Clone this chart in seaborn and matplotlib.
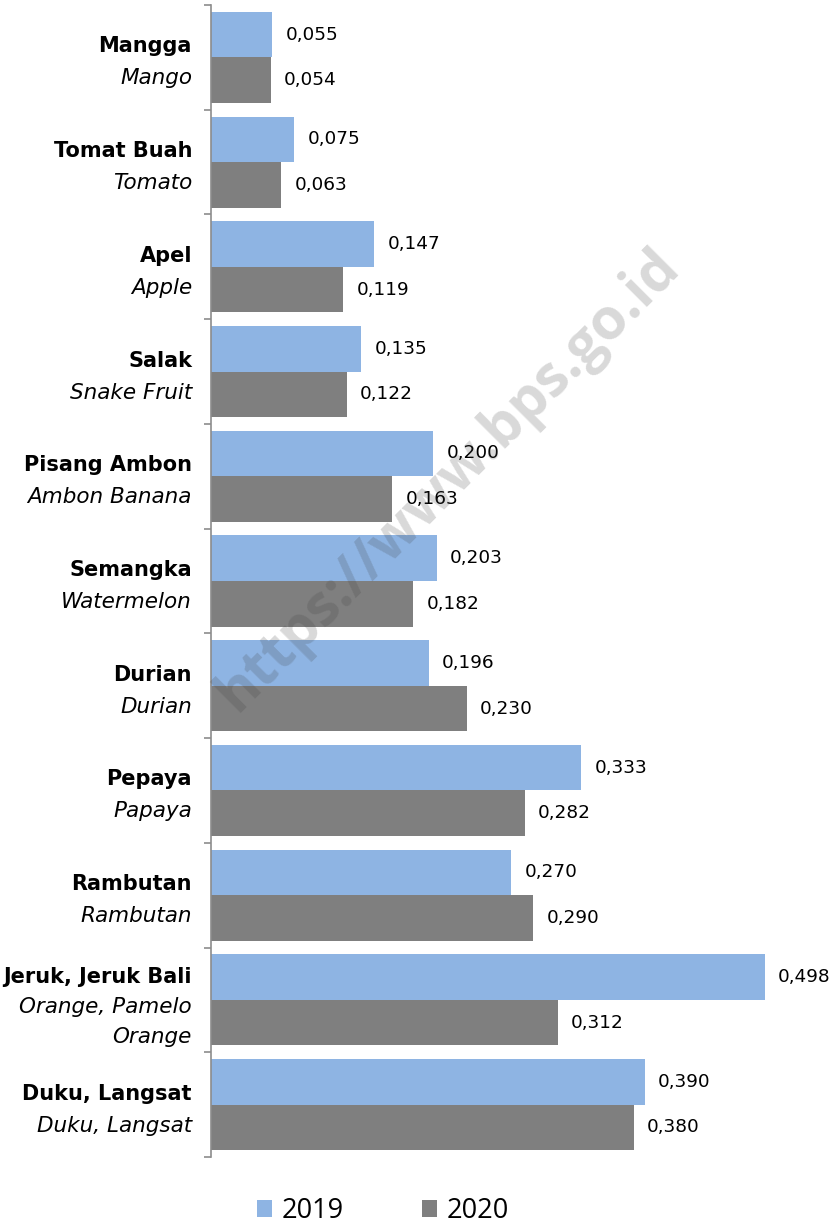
import numpy as np
import pandas as pd
import matplotlib
matplotlib.use("Agg")
import matplotlib.pyplot as plt
import matplotlib.transforms as mtransforms
from matplotlib.patches import Patch
import seaborn as sns

# ---------------- data ----------------
labels_id = ["Mangga", "Tomat Buah", "Apel", "Salak", "Pisang Ambon", "Semangka",
             "Durian", "Pepaya", "Rambutan", "Jeruk, Jeruk Bali", "Duku, Langsat"]
labels_en = ["Mango", "Tomato", "Apple", "Snake Fruit", "Ambon Banana", "Watermelon",
             "Durian", "Papaya", "Rambutan", "Orange, Pamelo\nOrange", "Duku, Langsat"]
years = ["2019", "2020"]
values_2019 = [0.055, 0.075, 0.147, 0.135, 0.200, 0.203, 0.196, 0.333, 0.270, 0.498, 0.390]
values_2020 = [0.054, 0.063, 0.119, 0.122, 0.163, 0.182, 0.230, 0.282, 0.290, 0.312, 0.380]
colors = ["#8EB4E3", "#7F7F7F"]
watermark = "https://www.bps.go.id"

df = pd.DataFrame({
    "cat": labels_id * 2,
    "year": [years[0]] * len(labels_id) + [years[1]] * len(labels_id),
    "value": values_2019 + values_2020,
})

sns.set_style("white")
plt.rcParams["font.family"] = ["Open Sans", "DejaVu Sans"]

fig = plt.figure(figsize=(8.35, 12.27), dpi=100)
ax = fig.add_axes([211 / 835, 1 - 1157 / 1227, 1 - 211 / 835, (1157 - 5) / 1227])

sns.barplot(data=df, y="cat", x="value", hue="year", order=labels_id, hue_order=years,
            palette=colors, orient="h", width=0.87, saturation=1, ax=ax, legend=False,
            linewidth=0)

ax.set_xlim(0, (835 - 211) / 1112)
ax.set_ylim(len(labels_id) - 0.5, -0.5)

# value labels
for cont in ax.containers:
    ax.bar_label(cont, labels=[f"{v:.3f}".replace(".", ",") for v in cont.datavalues],
                 padding=9.5, fontsize=13.3, color="black", family="DejaVu Sans")

# axes styling
for s in ["top", "right", "bottom"]:
    ax.spines[s].set_visible(False)
ax.spines["left"].set_color("#8C8C8C")
ax.spines["left"].set_linewidth(1.2)
ax.set_xticks([])
ax.set_xlabel("")
ax.set_ylabel("")
ax.set_yticks(np.arange(-0.5, len(labels_id), 1.0))
ax.set_yticklabels([])
ax.tick_params(axis="y", length=5, width=1.2, color="#8C8C8C", left=True)

# category labels (bold Indonesian, italic English)
trans = mtransforms.blended_transform_factory(ax.transAxes, ax.transData)
for i, (lid, len_) in enumerate(zip(labels_id, labels_en)):
    en_lines = len_.split("\n")
    if len(en_lines) == 1:
        offs = [-5, 27]
    else:
        offs = [-17, 13, 43]
    ax.annotate(lid, xy=(0, i), xycoords=trans, xytext=(-19, -offs[0]),
                textcoords="offset pixels", ha="right", va="baseline",
                fontsize=15, fontweight="bold", color="black", family="DejaVu Sans")
    for ln, o in zip(en_lines, offs[1:]):
        ax.annotate(ln, xy=(0, i), xycoords=trans, xytext=(-19, -o),
                    textcoords="offset pixels", ha="right", va="baseline",
                    fontsize=15.5, fontstyle="italic", color="black", family="DejaVu Sans")

# legend
handles = [Patch(facecolor=c, edgecolor="none") for c in colors]
fig.legend(handles, years, loc="center", bbox_to_anchor=(383 / 835, 1 - 1211 / 1227),
           ncol=2, frameon=False, fontsize=19.5, handlelength=0.55, handleheight=0.55,
           handletextpad=0.35, columnspacing=2.9, labelcolor="black")

# watermark
fig.text(448 / 835, 1 - 480 / 1227, watermark, rotation=45, ha="center", va="center",
         fontsize=41, fontweight="bold", color="#404040", alpha=0.2, zorder=10)

fig.savefig("out.png", dpi=100)
